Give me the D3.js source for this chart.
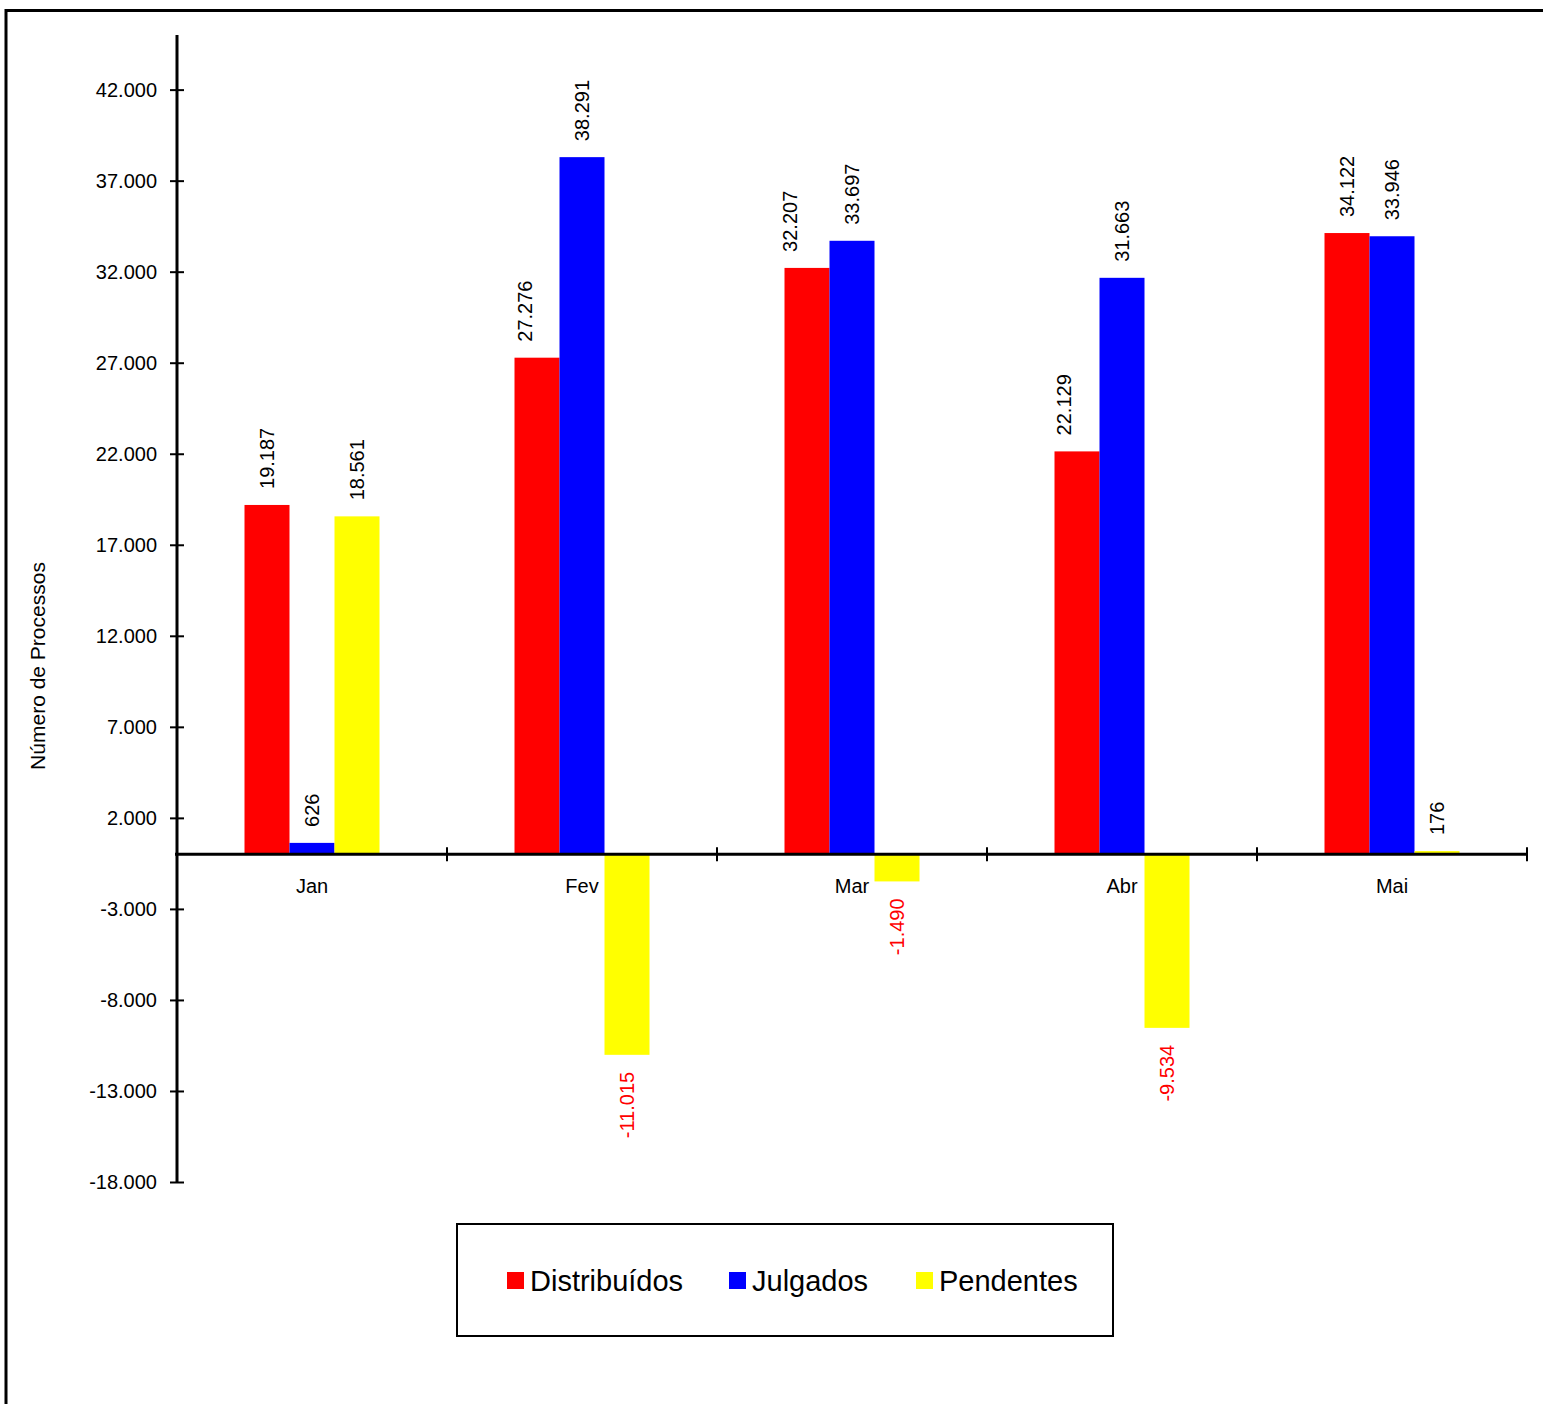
<!DOCTYPE html>
<html><head><meta charset="utf-8">
<script src="https://cdn.jsdelivr.net/npm/d3@7"></script>
<style>body{margin:0;background:#fff}svg{display:block}text{font-family:"Liberation Sans",Arial,sans-serif}</style>
</head><body>
<script>
const categories = ["Jan","Fev","Mar","Abr","Mai"];
const seriesNames = ["Distribuídos","Julgados","Pendentes"];
const distribuidos = [19187,27276,32207,22129,34122];
const julgados = [626,38291,33697,31663,33946];
const pendentes = [18561,-11015,-1490,-9534,176];
const yTicks = [42000,37000,32000,27000,22000,17000,12000,7000,2000,-3000,-8000,-13000,-18000];
const colors = ["#FF0000","#0000FF","#FFFF00"];
const seriesValues = [distribuidos, julgados, pendentes];
// manual label nudges (style, as in the original)
const labelNudge = {"Fev|Distribuídos":-12,"Mar|Distribuídos":-17,"Abr|Distribuídos":-13};

const W=1543,H=1404;
const svg=d3.select("body").append("svg").attr("width",W).attr("height",H);
svg.append("rect").attr("x",6).attr("y",10.5).attr("width",1600).attr("height",1500)
  .attr("fill","none").attr("stroke","#000").attr("stroke-width",3);

const x0=d3.scaleBand().domain(categories).range([177,1527]).padding(0);
const x1=d3.scaleBand().domain(seriesNames).range([x0.bandwidth()/4,x0.bandwidth()*3/4]);
const y=d3.scaleLinear().domain([-18000,45000]).range([1182,35]);
const fmt=v=>d3.format(",")(v).replace(/,/g,".").replace(/\u2212/g,"-");

// bars
const rows=[];
categories.forEach((c,i)=>seriesNames.forEach((s,j)=>rows.push({c,s,j,v:seriesValues[j][i]})));
svg.append("g").selectAll("rect").data(rows).join("rect")
  .attr("x",d=>x0(d.c)+x1(d.s)).attr("width",x1.bandwidth())
  .attr("y",d=>y(Math.max(0,d.v))).attr("height",d=>Math.abs(y(d.v)-y(0)))
  .attr("fill",d=>colors[d.j]);

// value labels
svg.append("g").selectAll("text").data(rows).join("text")
  .attr("transform",d=>{
    const cx=x0(d.c)+x1(d.s)+x1.bandwidth()/2+(labelNudge[d.c+"|"+d.s]||0);
    const yy=d.v>=0? y(d.v)-16 : y(d.v)+17;
    return `translate(${cx},${yy}) rotate(-90)`;})
  .attr("text-anchor",d=>d.v>=0?"start":"end")
  .attr("dy","0.36em")
  .attr("font-size",20)
  .attr("fill",d=>d.v>=0?"#000":"#FF0000")
  .text(d=>fmt(d.v));

// y axis
const yAx=svg.append("g").attr("transform","translate(177,0)")
  .call(d3.axisLeft(y).tickValues(yTicks).tickFormat(fmt).tickSize(7).tickPadding(13));
yAx.select(".domain").remove();
yAx.append("line").attr("x1",0).attr("x2",0).attr("y1",35).attr("y2",1183).attr("stroke","#000").attr("stroke-width",3);
yAx.selectAll(".tick line").attr("x1",-7).attr("x2",7).attr("stroke-width",2);
yAx.selectAll(".tick text").attr("font-size",20).attr("fill","#000").attr("font-family","Liberation Sans, Arial, sans-serif");

// x axis
const xAx=svg.append("g").attr("transform",`translate(0,${y(0)})`);
xAx.append("line").attr("x1",175).attr("x2",1528).attr("stroke","#000").attr("stroke-width",3);
const bounds=categories.map(c=>x0(c)).concat([x0.range()[1]]);
xAx.selectAll("line.t").data(bounds).join("line").attr("class","t")
  .attr("x1",d=>d).attr("x2",d=>d).attr("y1",-7).attr("y2",7).attr("stroke","#000").attr("stroke-width",2);
xAx.selectAll("text").data(categories).join("text")
  .attr("x",d=>x0(d)+x0.bandwidth()/2).attr("y",39).attr("text-anchor","middle")
  .attr("font-size",20).text(d=>d);

// y title
svg.append("text").attr("transform","translate(37,666) rotate(-90)").attr("text-anchor","middle")
  .attr("dy","0.36em").attr("font-size",21).text("Número de Processos");

// legend
const lg=svg.append("g");
lg.append("rect").attr("x",457).attr("y",1224).attr("width",656).attr("height",112)
  .attr("fill","#fff").attr("stroke","#000").attr("stroke-width",2);
const lx=[507,729,916];
seriesNames.forEach((s,j)=>{
  lg.append("rect").attr("x",lx[j]).attr("y",1272).attr("width",17).attr("height",17).attr("fill",colors[j]);
  lg.append("text").attr("x",lx[j]+23).attr("y",1291).attr("font-size",29).text(s);
});
</script>
</body></html>
